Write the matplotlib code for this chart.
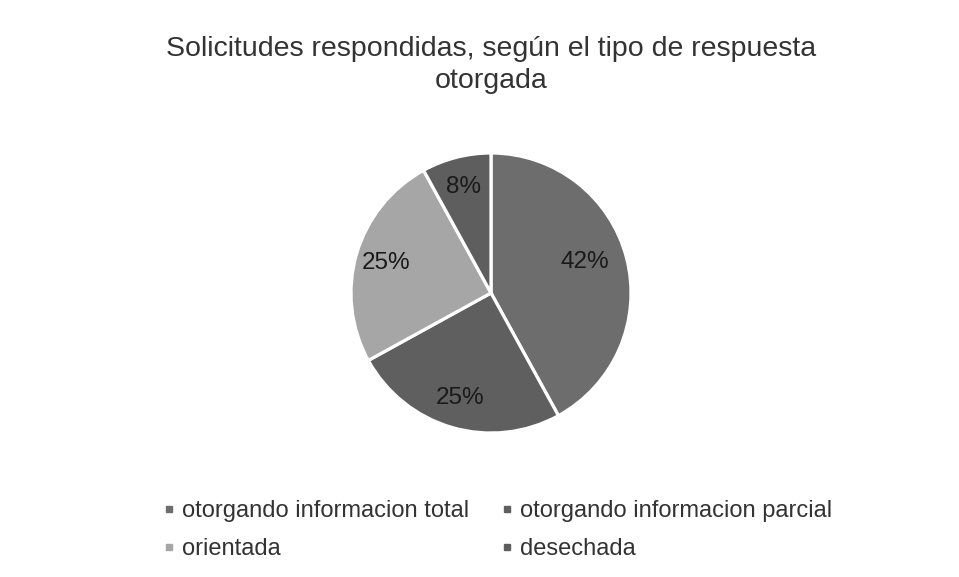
import matplotlib
matplotlib.use("Agg")
import matplotlib.pyplot as plt
from matplotlib.lines import Line2D

plt.rcParams['font.family'] = ['Liberation Sans', 'DejaVu Sans']

title = "Solicitudes respondidas, según el tipo de respuesta\notorgada"
categories = ["otorgando informacion total", "otorgando informacion parcial",
              "orientada", "desechada"]
values = [42, 25, 25, 8]
colors = ["#6d6d6d", "#5f5f5f", "#a6a6a6", "#5e5e5e"]

W, H = 959, 577
fig = plt.figure(figsize=(W / 100, H / 100), dpi=100)
fig.patch.set_facecolor("white")

cx, cy, r = 491, 293, 140
ax = fig.add_axes([(cx - r) / W, (H - cy - r) / H, 2 * r / W, 2 * r / H])
wedges, texts, autotexts = ax.pie(
    values, colors=colors, startangle=90, counterclock=False,
    autopct=lambda p: f"{p:.0f}%", pctdistance=0.78,
    wedgeprops=dict(edgecolor="white", linewidth=2.3),
    textprops=dict(fontsize=17.5, color="#1a1a1a"))
autotexts[0].set_position((0.67, 0.22))
ax.set_xlim(-1, 1)
ax.set_ylim(-1, 1)
ax.set_aspect("equal")
ax.axis("off")

fig.text(cx / W, 1 - 65 / H, title, ha="center", va="center",
         fontsize=20.5, color="#333333", linespacing=1.3)

handles = [Line2D([], [], marker="s", linestyle="none", markersize=5,
                  markerfacecolor=c, markeredgecolor=c) for c in colors]
order = [0, 2, 1, 3]
leg = fig.legend([handles[i] for i in order], [categories[i] for i in order],
                 ncol=2, loc="center",
                 bbox_to_anchor=(498 / W, 1 - 530 / H), frameon=False,
                 fontsize=17, handlelength=0.45, handletextpad=0.3,
                 columnspacing=1.4, labelspacing=0.68, labelcolor="#333333")

fig.savefig("out.png", dpi=100, facecolor="white")
